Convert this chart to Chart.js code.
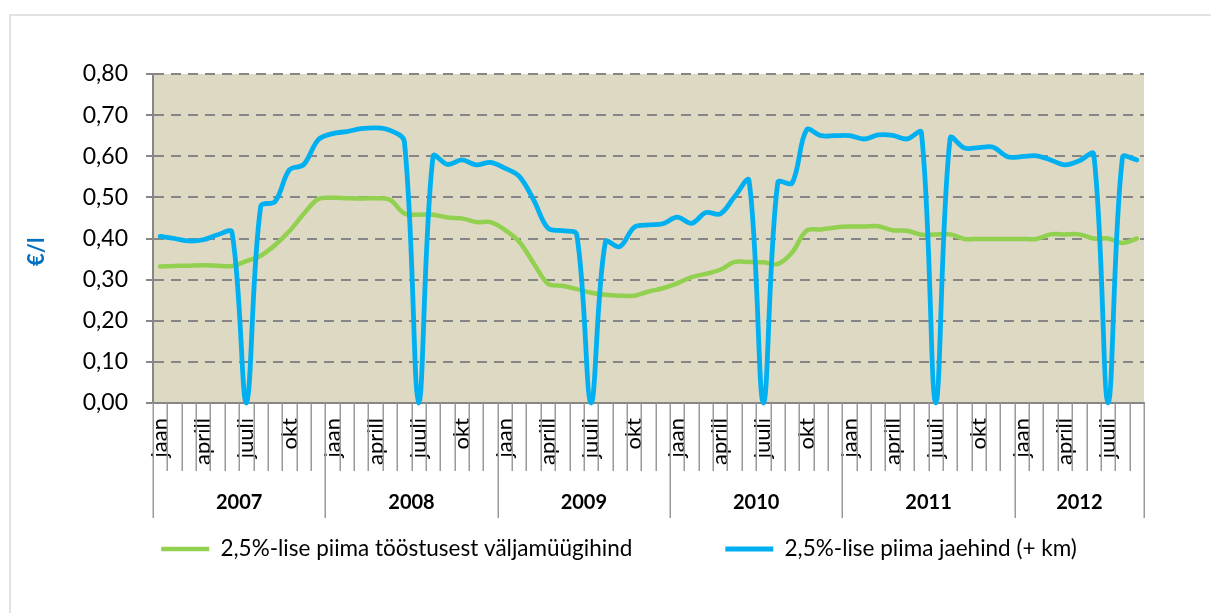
<!DOCTYPE html>
<html><head><meta charset="utf-8">
<script src="https://cdn.jsdelivr.net/npm/chart.js@4.4.1/dist/chart.umd.min.js"></script>
<style>html,body{margin:0;padding:0;background:#fff;overflow:hidden}</style>
</head><body>
<canvas id="c" width="1211" height="613"></canvas>
<script>
const monthNames = ['jaan','veebr','märts','aprill','mai','juuni','juuli','aug','sept','okt','nov','dets'];
const years = ['2007','2008','2009','2010','2011','2012'];
const monthsPerYear = [12,12,12,12,12,9];
const shownMonthLabels = ['jaan','aprill','juuli','okt'];
const seriesNames = ['2,5%-lise piima tööstusest väljamüügihind','2,5%-lise piima jaehind (+ km)'];
const axisTitle = '€/l';

// 2,5%-lise piima tööstusest väljamüügihind (€/l), jaan 2007 – sept 2012
const industryPrice = [
  0.332,0.333,0.334,0.335,0.334,0.333,0.345,0.358,0.384,0.418,0.460,0.496,
  0.499,0.498,0.497,0.498,0.494,0.461,0.458,0.458,0.451,0.449,0.440,0.440,
  0.421,0.392,0.340,0.290,0.285,0.277,0.268,0.263,0.261,0.261,0.271,0.279,
  0.291,0.306,0.314,0.324,0.343,0.343,0.342,0.338,0.366,0.419,0.422,0.427,
  0.429,0.429,0.430,0.420,0.419,0.409,0.410,0.410,0.399,0.399,0.399,0.399,
  0.399,0.399,0.410,0.410,0.410,0.400,0.400,0.389,0.400
];
// 2,5%-lise piima jaehind (+ km) (€/l)
const retailPrice = [
  0.405,0.400,0.394,0.397,0.409,0.415,0.000,0.478,0.490,0.567,0.580,0.640,
  0.655,0.660,0.667,0.669,0.663,0.636,0.000,0.600,0.580,0.591,0.579,0.585,
  0.571,0.551,0.494,0.425,0.419,0.410,0.000,0.392,0.380,0.427,0.433,0.436,
  0.452,0.437,0.463,0.460,0.502,0.541,0.000,0.536,0.535,0.664,0.650,0.650,
  0.650,0.642,0.652,0.651,0.642,0.658,0.000,0.644,0.620,0.621,0.622,0.599,
  0.599,0.601,0.591,0.579,0.589,0.605,0.000,0.597,0.591
];
const yTickValues = [0,0.1,0.2,0.3,0.4,0.5,0.6,0.7,0.8];

const categories = [];
monthsPerYear.forEach(n => { for (let m = 0; m < n; m++) categories.push(monthNames[m]); });

Chart.defaults.font.family = 'Lato, "Open Sans", sans-serif';
Chart.defaults.color = '#000';

const LEGEND_SHIFT = 47;
const LEGEND_GAP = 93;
const LEGEND_FONT = 22.5;
const LEGEND_CENTER_Y = 549;

const deco = {
  id: 'deco',
  afterLayout(chart) {
    const l = chart.legend;
    if (l) {
      l.left += LEGEND_SHIFT; l.right += LEGEND_SHIFT;
      l.top = LEGEND_CENTER_Y - LEGEND_GAP - LEGEND_FONT / 2;
      l.bottom = chart.height;
    }
  },
  beforeDraw(chart) {
    const {ctx, chartArea: a} = chart;
    ctx.save();
    ctx.strokeStyle = '#D9D9D9';
    ctx.lineWidth = 1.5;
    ctx.strokeRect(10, 15, 1400, 800);
    ctx.fillStyle = '#DDD9C3';
    ctx.fillRect(a.left, a.top, a.right - a.left, a.bottom - a.top);
    ctx.restore();
  },
  afterDraw(chart) {
    const {ctx, chartArea: a, scales: {x}} = chart;
    const bounds = [0];
    let acc = 0;
    monthsPerYear.forEach(n => { acc += n; bounds.push(acc); });
    ctx.save();
    ctx.strokeStyle = '#9A9A9A';
    ctx.lineWidth = 1.5;
    for (let i = 0; i <= categories.length; i++) {
      const px = Math.round(x.getPixelForValue(i - 0.5)) + 0.25;
      const isYear = bounds.includes(i);
      ctx.beginPath();
      ctx.moveTo(px, a.bottom);
      ctx.lineTo(px, a.bottom + (isYear ? 115 : 68));
      ctx.stroke();
    }
    ctx.fillStyle = '#000';
    ctx.font = 'bold 20px Lato, "Open Sans", sans-serif';
    ctx.textAlign = 'center';
    ctx.textBaseline = 'middle';
    years.forEach((yr, k) => {
      const x0 = x.getPixelForValue(bounds[k] - 0.5);
      const x1 = x.getPixelForValue(bounds[k + 1] - 0.5);
      ctx.fillText(yr, (x0 + x1) / 2, a.bottom + 100);
    });
    ctx.restore();
  }
};

new Chart(document.getElementById('c'), {
  type: 'line',
  data: {
    labels: categories,
    datasets: [
      { label: seriesNames[0], data: industryPrice, borderColor: '#92D050', backgroundColor: '#92D050',
        borderWidth: 4.5, pointRadius: 0, tension: 0.35, borderCapStyle: 'round', borderJoinStyle: 'round',
        clip: false, fill: false, order: 1 },
      { label: seriesNames[1], data: retailPrice, borderColor: '#00B0F0', backgroundColor: '#00B0F0',
        borderWidth: 4.8, pointRadius: 0, tension: 0.35, borderCapStyle: 'round', borderJoinStyle: 'round',
        clip: false, fill: false, order: 0 }
    ]
  },
  options: {
    responsive: false,
    animation: false,
    devicePixelRatio: 1,
    layout: { padding: { left: 0, right: 67, top: 74, bottom: 43 } },
    plugins: {
      tooltip: { enabled: false },
      legend: {
        position: 'bottom',
        maxHeight: 52,
        labels: {
          usePointStyle: true, pointStyle: 'line', pointStyleWidth: 48,
          padding: LEGEND_GAP, font: { size: LEGEND_FONT }, color: '#000',
          sort: (a, b) => a.datasetIndex - b.datasetIndex
        }
      }
    },
    scales: {
      x: {
        type: 'category',
        offset: true,
        grid: { display: false, drawTicks: false },
        border: { display: true, color: '#868686', width: 2 },
        ticks: {
          autoSkip: false, minRotation: 90, maxRotation: 90, padding: 15,
          font: { size: 22 }, color: '#000',
          callback: function (v) { const l = this.getLabelForValue(v); return shownMonthLabels.includes(l) ? l : ''; }
        },
        afterFit: s => { s.height = 115; }
      },
      y: {
        min: 0, max: 0.8,
        afterBuildTicks: s => { s.ticks = yTickValues.map(v => ({ value: v })); },
        grid: { color: '#868686', lineWidth: 2, drawTicks: true, tickLength: 7, tickColor: '#868686', tickWidth: 2, tickBorderDash: [] },
        border: { display: true, color: '#868686', width: 2, dash: [10, 7] },
        ticks: { padding: 18, font: { size: 23 }, color: '#000', callback: v => v.toFixed(2).replace('.', ',') },
        title: { display: true, text: axisTitle + '\u00a0\u00a0\u00a0\u00a0\u00a0', color: '#0070C0', font: { size: 22, weight: 'bold' }, padding: { top: 24, bottom: 0 } },
        afterFit: s => { s.width = 153; }
      }
    }
  },
  plugins: [deco]
});
</script>
</body></html>
